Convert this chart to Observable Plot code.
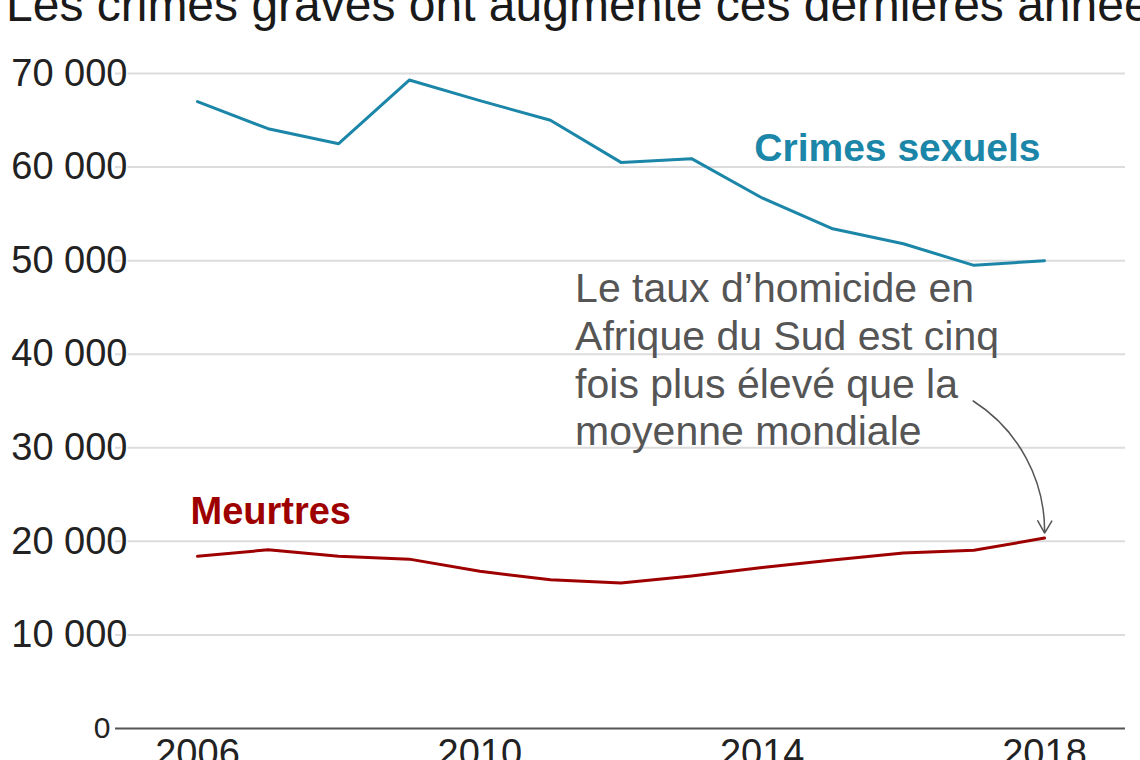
<!DOCTYPE html>
<html>
<head>
<meta charset="utf-8">
<script src="https://cdn.jsdelivr.net/npm/d3@7"></script>
<script src="https://cdn.jsdelivr.net/npm/@observablehq/plot@0.6"></script>
<style>
  html, body { margin: 0; padding: 0; background: #fff; overflow: hidden; width: 1140px; height: 760px; }
  #wrap { position: relative; width: 1140px; height: 760px; font-family: "Liberation Sans", Arial, sans-serif; }
  #title { position: absolute; left: 6px; top: -19px; font-size: 48px; line-height: 48px; white-space: nowrap; color: #1a1a1a; z-index: 2; }
  #chart { position: absolute; left: 0; top: 0; }
</style>
</head>
<body>
<div id="wrap">
  <div id="title">Les crimes graves ont augmenté ces dernières années</div>
  <div id="chart"></div>
</div>
<script>
const years = [2006, 2007, 2008, 2009, 2010, 2011, 2012, 2013, 2014, 2015, 2016, 2017, 2018];
const sexualCrimes = [67000, 64100, 62500, 69300, 67100, 65000, 60500, 60900, 56700, 53400, 51800, 49500, 50000];
const murders = [18400, 19100, 18400, 18100, 16800, 15900, 15550, 16300, 17200, 18000, 18750, 19050, 20350];
const yTicks = [0, 10000, 20000, 30000, 40000, 50000, 60000, 70000];
const xTicks = [2006, 2010, 2014, 2018];
const seriesNames = ["Crimes sexuels", "Meurtres"];
const seriesColors = ["#1b86a8", "#9e0000"];
const seriesLabelX = [2018, 2006];
const seriesLabelY = [60600, 21900];
const annotationText = "Le taux d\u2019homicide en\nAfrique du Sud est cinq\nfois plus élevé que la\nmoyenne mondiale";
const annotationX = [2011.35];
const annotationY = [30250];
const arrowFrom = [2016.99, 35000];
const arrowTo = [2018, 20350];

const rows = [];
years.forEach((yr, i) => {
  rows.push({year: yr, value: sexualCrimes[i], series: seriesNames[0]});
  rows.push({year: yr, value: murders[i], series: seriesNames[1]});
});
const fmt = d3.formatLocale({decimal: ",", thousands: " ", grouping: [3]}).format(",");
const font = "Liberation Sans, Arial, sans-serif";

const chart = Plot.plot({
  width: 1140,
  height: 760,
  marginLeft: 115,
  marginRight: 15,
  marginTop: 73,
  marginBottom: 32,
  style: {fontFamily: font, color: "#222", background: "transparent", overflow: "visible"},
  x: {domain: [2006, 2018], range: [197, 1044], axis: null, label: null},
  y: {domain: [0, 70000], range: [728, 73], axis: null, label: null},
  color: {domain: seriesNames, range: seriesColors},
  marks: [
    Plot.ruleY(yTicks.filter(d => d > 0), {stroke: "#dcdcdc", strokeWidth: 2}),
    Plot.ruleY([0], {stroke: "#555", strokeWidth: 2}),
    Plot.text(yTicks.filter(d => d > 0), {
      y: d => d, frameAnchor: "left", text: d => fmt(d), textAnchor: "end",
      dx: 12, fontSize: 38, fill: "#222", stroke: "white", strokeWidth: 3, lineAnchor: "middle"
    }),
    Plot.text([0], {
      y: d => d, frameAnchor: "left", text: d => fmt(d), textAnchor: "end",
      dx: -5, fontSize: 30, fill: "#222", lineAnchor: "middle"
    }),
    Plot.axisX({ticks: xTicks, tickFormat: d => String(d), tickSize: 0, tickPadding: 11, fontSize: 38, fill: "#222", label: null}),
    Plot.line(rows, {x: "year", y: "value", z: "series", stroke: "series", strokeWidth: 3}),
    Plot.text([0], {
      x: () => seriesLabelX[0], y: () => seriesLabelY[0], text: () => seriesNames[0],
      textAnchor: "end", dx: -4, lineAnchor: "bottom", fontSize: 39, fontWeight: "bold", fill: seriesColors[0]
    }),
    Plot.text([0], {
      x: () => seriesLabelX[1], y: () => seriesLabelY[1], text: () => seriesNames[1],
      textAnchor: "start", dx: -7, lineAnchor: "bottom", fontSize: 38, fontWeight: "bold", fill: seriesColors[1]
    }),
    Plot.text([0], {
      x: () => annotationX[0], y: () => annotationY[0], text: () => annotationText,
      textAnchor: "start", lineAnchor: "bottom", lineHeight: 1.163, fontSize: 41, fill: "#555"
    }),
    Plot.arrow([0], {
      x1: () => arrowFrom[0], y1: () => arrowFrom[1], x2: () => arrowTo[0], y2: () => arrowTo[1],
      bend: 30, stroke: "#555", strokeWidth: 1.5, headLength: 14, insetEnd: 5
    })
  ]
});
document.getElementById("chart").appendChild(chart);
</script>
</body>
</html>
